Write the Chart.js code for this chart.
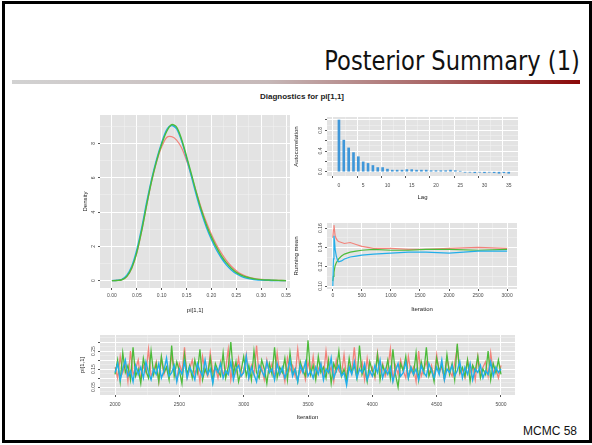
<!DOCTYPE html>
<html>
<head>
<meta charset="utf-8">
<script src="https://cdn.jsdelivr.net/npm/chart.js@4"></script>
<style>
  html, body { margin: 0; padding: 0; background: #fff; }
  body { width: 592px; height: 445px; position: relative; overflow: hidden; }
  #frame { position: absolute; left: 2px; top: 1px; width: 590px; height: 442px; box-sizing: border-box; border: 3px solid #000; }
  #title { position: absolute; right: 12px; top: 46px; font: 26px "DejaVu Sans", sans-serif; line-height: 30px; color: #111;
           transform: scaleX(0.87); transform-origin: right center; white-space: nowrap; }
  #rule { position: absolute; left: 12px; top: 80px; width: 568px; height: 4px;
          background: linear-gradient(to right, #d2d2d2 0%, #c6b8b8 45%, #a86262 75%, #8a0808 100%); }
  #diag { position: absolute; left: 202px; top: 92px; width: 200px; text-align: center;
          font: bold 8px "Liberation Sans", Arial, sans-serif; line-height: 10px; color: #222; }
  #foot { position: absolute; right: 15px; top: 424px; font: 12px "Liberation Sans", Arial, sans-serif; line-height: 14px; color: #111; }
  canvas { position: absolute; }
</style>
</head>
<body>
<div id="frame"></div>
<div id="title">Posterior Summary (1)</div>
<div id="rule"></div>
<div id="diag">Diagnostics for pi[1,1]</div>
<canvas id="cDens"></canvas>
<canvas id="cAcf"></canvas>
<canvas id="cRun"></canvas>
<canvas id="cTrace"></canvas>
<div id="foot">MCMC 58</div>
<script>
// ---- data ----
const CHAINS = ['1', '2', '3'];

// density of pi[1,1] per chain
const densX = [0.00,0.01,0.02,0.03,0.04,0.05,0.06,0.07,0.08,0.09,0.10,0.11,0.12,0.13,0.14,0.15,0.16,0.17,
               0.18,0.19,0.20,0.21,0.22,0.23,0.24,0.25,0.26,0.27,0.28,0.29,0.30,0.31,0.32,0.33,0.34,0.35];
const densGreen = [0.00,0.01,0.05,0.25,0.75,1.65,2.95,4.45,5.85,7.00,7.95,8.70,9.10,8.95,8.25,7.25,6.20,5.10,
                   4.10,3.25,2.55,1.95,1.45,1.05,0.72,0.48,0.32,0.21,0.14,0.09,0.06,0.04,0.03,0.02,0.01,0.00];
const densBlue  = [0.00,0.02,0.08,0.32,0.85,1.80,3.10,4.60,5.95,7.10,8.05,8.80,9.05,8.85,8.15,7.15,6.05,4.95,
                   3.95,3.10,2.40,1.80,1.32,0.92,0.62,0.40,0.25,0.15,0.09,0.05,0.03,0.02,0.01,0.00,0.00,0.00];
const densPink  = [0.00,0.01,0.05,0.24,0.72,1.60,2.90,4.40,5.80,6.95,7.80,8.35,8.40,8.20,7.75,7.00,6.10,5.15,
                   4.20,3.40,2.70,2.10,1.60,1.18,0.84,0.58,0.38,0.25,0.16,0.10,0.07,0.05,0.03,0.02,0.01,0.00];

// autocorrelation by lag
const acfLags = [0,1,2,3,4,5,6,7,8,9,10,11,12,13,14,15,16,17,18,19,20,21,22,23,24,25,26,27,28,29,30,31,32,33,34,35];
const acfVals = [1.00,0.61,0.46,0.37,0.29,0.19,0.16,0.12,0.08,0.08,0.05,0.03,0.03,0.03,0.04,0.04,0.03,0.03,
                 0.03,0.02,0.02,0.02,0.02,0.03,0.02,0.01,-0.01,-0.01,-0.02,-0.01,-0.02,-0.01,-0.02,-0.03,-0.02,-0.03];

// running mean per chain
const runIter  = [0,10,20,30,40,60,80,100,150,200,300,400,500,700,1000,1300,1600,2000,2500,3000];
const runPink  = [0.150,0.158,0.163,0.157,0.152,0.149,0.147,0.146,0.145,0.144,0.145,0.143,0.141,0.139,0.139,0.138,0.138,0.139,0.140,0.139];
const runBlue  = [0.100,0.128,0.152,0.146,0.138,0.131,0.127,0.125,0.126,0.128,0.130,0.131,0.132,0.133,0.134,0.135,0.135,0.134,0.136,0.136];
const runGreen = [0.105,0.110,0.114,0.118,0.121,0.124,0.126,0.128,0.131,0.133,0.135,0.136,0.137,0.138,0.137,0.137,0.138,0.138,0.137,0.138];

// trace per chain
const traceIter = [
  2000,2020,2040,2060,2080,2100,2120,2140,2160,2180, 2200,2220,2240,2260,2280,2300,2320,2340,2360,2380,
  2400,2420,2440,2460,2480,2500,2520,2540,2560,2580, 2600,2620,2640,2660,2680,2700,2720,2740,2760,2780,
  2800,2820,2840,2860,2880,2900,2920,2940,2960,2980, 3000,3020,3040,3060,3080,3100,3120,3140,3160,3180,
  3200,3220,3240,3260,3280,3300,3320,3340,3360,3380, 3400,3420,3440,3460,3480,3500,3520,3540,3560,3580,
  3600,3620,3640,3660,3680,3700,3720,3740,3760,3780, 3800,3820,3840,3860,3880,3900,3920,3940,3960,3980,
  4000,4020,4040,4060,4080,4100,4120,4140,4160,4180, 4200,4220,4240,4260,4280,4300,4320,4340,4360,4380,
  4400,4420,4440,4460,4480,4500,4520,4540,4560,4580, 4600,4620,4640,4660,4680,4700,4720,4740,4760,4780,
  4800,4820,4840,4860,4880,4900,4920,4940,4960,4980, 5000];
const traceBlue = [
  0.13,0.18,0.09,0.15,0.20,0.11,0.14,0.08,0.17,0.12, 0.16,0.10,0.19,0.13,0.09,0.15,0.12,0.18,0.10,0.14,
  0.21,0.11,0.13,0.17,0.08,0.15,0.12,0.19,0.10,0.16, 0.13,0.09,0.18,0.14,0.11,0.20,0.12,0.15,0.07,0.16,
  0.13,0.18,0.10,0.14,0.12,0.19,0.09,0.15,0.17,0.11, 0.13,0.22,0.10,0.16,0.12,0.08,0.17,0.14,0.11,0.19,
  0.13,0.15,0.09,0.18,0.12,0.16,0.10,0.14,0.20,0.11, 0.15,0.08,0.17,0.13,0.19,0.11,0.14,0.10,0.16,0.12,
  0.18,0.09,0.15,0.13,0.21,0.10,0.14,0.17,0.11,0.13, 0.06,0.16,0.12,0.19,0.10,0.15,0.13,0.18,0.09,0.14,
  0.11,0.17,0.13,0.20,0.10,0.15,0.12,0.16,0.08,0.14, 0.18,0.11,0.13,0.19,0.10,0.16,0.12,0.15,0.09,0.17,
  0.13,0.11,0.18,0.14,0.10,0.16,0.12,0.20,0.09,0.15, 0.13,0.17,0.11,0.14,0.19,0.10,0.16,0.12,0.18,0.09,
  0.15,0.13,0.17,0.10,0.14,0.12,0.19,0.11,0.16,0.13, 0.15];
const traceGreen = [
  0.12,0.20,0.08,0.24,0.13,0.17,0.09,0.27,0.11,0.15, 0.07,0.21,0.14,0.10,0.25,0.12,0.18,0.08,0.22,0.13,
  0.16,0.09,0.28,0.11,0.19,0.14,0.07,0.23,0.12,0.17, 0.10,0.20,0.13,0.26,0.09,0.15,0.12,0.21,0.08,0.18,
  0.14,0.11,0.24,0.10,0.16,0.30,0.12,0.19,0.08,0.14, 0.22,0.11,0.17,0.09,0.25,0.13,0.10,0.20,0.15,0.07,
  0.18,0.12,0.27,0.10,0.16,0.13,0.21,0.09,0.24,0.12, 0.15,0.08,0.19,0.14,0.11,0.31,0.12,0.17,0.09,0.22,
  0.13,0.16,0.10,0.20,0.07,0.18,0.14,0.25,0.11,0.15, 0.09,0.21,0.13,0.17,0.10,0.28,0.12,0.16,0.08,0.19,
  0.14,0.11,0.23,0.09,0.17,0.13,0.20,0.10,0.26,0.12, 0.05,0.18,0.14,0.22,0.10,0.16,0.12,0.24,0.09,0.19,
  0.13,0.27,0.11,0.15,0.08,0.21,0.14,0.17,0.10,0.23, 0.12,0.18,0.09,0.29,0.13,0.16,0.11,0.20,0.08,0.17,
  0.14,0.22,0.10,0.15,0.12,0.25,0.09,0.18,0.13,0.20, 0.12];
const tracePink = [
  0.16,0.10,0.22,0.13,0.18,0.08,0.25,0.12,0.15,0.20, 0.09,0.17,0.13,0.26,0.11,0.14,0.19,0.08,0.21,0.12,
  0.16,0.11,0.23,0.14,0.09,0.18,0.13,0.27,0.10,0.15, 0.20,0.12,0.17,0.08,0.22,0.14,0.11,0.24,0.13,0.16,
  0.10,0.19,0.12,0.15,0.26,0.09,0.18,0.13,0.21,0.11, 0.14,0.23,0.10,0.17,0.12,0.28,0.11,0.16,0.09,0.20,
  0.13,0.18,0.10,0.24,0.12,0.15,0.08,0.21,0.14,0.17, 0.11,0.26,0.13,0.16,0.09,0.19,0.12,0.22,0.10,0.15,
  0.18,0.11,0.25,0.13,0.16,0.08,0.20,0.14,0.12,0.23, 0.10,0.17,0.13,0.27,0.11,0.15,0.19,0.09,0.21,0.12,
  0.16,0.10,0.24,0.13,0.18,0.11,0.15,0.26,0.09,0.17, 0.12,0.20,0.14,0.10,0.22,0.13,0.16,0.08,0.25,0.11,
  0.15,0.19,0.12,0.17,0.10,0.23,0.13,0.16,0.09,0.21, 0.14,0.11,0.18,0.27,0.12,0.15,0.10,0.20,0.13,0.17,
  0.09,0.22,0.12,0.16,0.19,0.11,0.24,0.13,0.15,0.10, 0.17];

// tick labels
const densXLabels = [0.00,0.05,0.10,0.15,0.20,0.25,0.30,0.35];
const densYLabels = [0,2,4,6,8];
const acfXLabels = [0,5,10,15,20,25,30,35];
const acfYLabels = [0.0,0.4,0.8];
const runXLabels = [0,500,1000,1500,2000,2500,3000];
const runYLabels = [0.10,0.12,0.14,0.16];
const traceXLabels = [2000,2500,3000,3500,4000,4500,5000];
const traceYLabels = [0.05,0.15,0.25];

// ---- look ----
const FONT = '"Liberation Sans", Arial, sans-serif';
const PINK = '#f2837b', GREEN = '#4cbb3a', BLUE = '#21aeea';
const PANEL_BG = '#e3e3e3';
const PAD_T = 3, PAD_R = 6;

const near = (a, b) => Math.abs(a - b) < 1e-7 * Math.max(1, Math.abs(a));
const onStep = (v, step) => near(v / step, Math.round(v / step));

function axis(o) {
  return {
    type: 'linear', min: o.min, max: o.max,
    // grid positions every minor step, labels only where the picture has them
    afterBuildTicks: s => {
      const out = [];
      for (let k = Math.ceil(o.min / o.minor - 1e-9); k * o.minor <= o.max + 1e-9; k++) {
        out.push({ value: +(k * o.minor).toFixed(6) });
      }
      s.ticks = out;
    },
    afterFit: s => {
      if (s.isHorizontal()) s.height = o.size; else s.width = o.size;
      s.paddingLeft = s.paddingRight = s.paddingTop = s.paddingBottom = 0;
    },
    border: { display: false },
    grid: {
      drawTicks: true, tickLength: 2,
      color: c => !c.tick ? 'rgba(0,0,0,0)' : onStep(c.tick.value, o.major) ? '#ffffff' : '#f2f2f2',
      lineWidth: c => c.tick && onStep(c.tick.value, o.major) ? 1 : 0.5,
      tickColor: c => c.tick && onStep(c.tick.value, o.major) ? '#555' : 'rgba(0,0,0,0)',
    },
    ticks: {
      autoSkip: false, minRotation: 0, maxRotation: 0,
      padding: o.pad || 3,
      font: { family: FONT, size: 5 },
      color: o.rotate ? 'rgba(0,0,0,0)' : '#4d4d4d',
      callback: v => o.labels.some(l => near(l, v)) ? Number(v).toFixed(o.dec) : '',
    },
    title: { display: true, text: o.title, color: '#222', font: { family: FONT, size: 6 }, padding: 0 },
  };
}

// ggplot-ish: grey panel and rotated y tick labels
const panelBg = {
  id: 'panelBg',
  beforeDraw(chart) {
    const a = chart.chartArea, ctx = chart.ctx;
    ctx.save();
    ctx.fillStyle = PANEL_BG;
    ctx.fillRect(a.left, a.top, a.right - a.left, a.bottom - a.top);
    ctx.restore();
  },
  afterDraw(chart) {
    const s = chart.scales.y, ctx = chart.ctx;
    ctx.save();
    ctx.fillStyle = '#4d4d4d';
    ctx.font = '5px ' + FONT;
    ctx.textAlign = 'center';
    ctx.textBaseline = 'bottom';
    s.ticks.forEach(t => {
      if (!t.label) return;
      ctx.save();
      ctx.translate(s.right - 4, s.getPixelForValue(t.value));
      ctx.rotate(-Math.PI / 2);
      ctx.fillText(t.label, 0, 0);
      ctx.restore();
    });
    ctx.restore();
  }
};

function place(id, p) {
  const c = document.getElementById(id);
  c.width = p.w + p.yW + PAD_R;
  c.height = p.h + PAD_T + p.xH;
  c.style.left = (p.x - p.yW) + 'px';
  c.style.top = (p.y - PAD_T) + 'px';
  return c;
}

function baseOptions(xAxis, yAxis) {
  return {
    responsive: false, animation: false,
    layout: { padding: { top: PAD_T, right: PAD_R, left: 0, bottom: 0 } },
    plugins: { legend: { display: false }, tooltip: { enabled: false } },
    scales: { x: xAxis, y: yAxis },
  };
}

const pts = (xs, ys) => xs.map((x, i) => ({ x, y: ys[i] }));
const line = (label, data, color, width, tension) => ({
  label, data, borderColor: color, backgroundColor: color, borderWidth: width,
  pointRadius: 0, tension: tension || 0, fill: false,
});

// density
const pDens = { x: 100, y: 115, w: 190, h: 173, yW: 18, xH: 26 };
new Chart(place('cDens', pDens), {
  type: 'line',
  data: { datasets: [
    line(CHAINS[1], pts(densX, densGreen), GREEN, 1.4, 0.3),
    line(CHAINS[2], pts(densX, densBlue), BLUE, 1.4, 0.3),
    line(CHAINS[0], pts(densX, densPink), PINK, 1.2, 0.3),
  ] },
  options: baseOptions(
    axis({ min: -0.024, max: 0.358, major: 0.05, minor: 0.025, labels: densXLabels, dec: 2, title: 'pi[1,1]', size: pDens.xH, pad: 3 }),
    axis({ min: -0.43, max: 9.66, major: 2, minor: 1, labels: densYLabels, dec: 0, title: 'Density', size: pDens.yW, rotate: true })
  ),
  plugins: [panelBg],
});

// autocorrelation
const pAcf = { x: 327, y: 117, w: 191, h: 59, yW: 34, xH: 25 };
new Chart(place('cAcf', pAcf), {
  type: 'bar',
  data: { datasets: [{
    label: 'acf', data: pts(acfLags, acfVals), backgroundColor: '#3f97d9', borderWidth: 0, barThickness: 2,
  }] },
  options: baseOptions(
    axis({ min: -1.15, max: 35.6, major: 5, minor: 2.5, labels: acfXLabels, dec: 0, title: 'Lag', size: pAcf.xH, pad: 5 }),
    axis({ min: -0.083, max: 1.058, major: 0.2, minor: 0.1, labels: acfYLabels, dec: 1, title: 'Autocorrelation', size: pAcf.yW, rotate: true })
  ),
  plugins: [panelBg],
});

// running mean
const pRun = { x: 327, y: 223, w: 190, h: 66, yW: 34, xH: 24 };
new Chart(place('cRun', pRun), {
  type: 'line',
  data: { datasets: [
    line(CHAINS[2], pts(runIter, runBlue), BLUE, 1.2),
    line(CHAINS[1], pts(runIter, runGreen), GREEN, 1.2),
    line(CHAINS[0], pts(runIter, runPink), PINK, 1.2),
  ] },
  options: baseOptions(
    axis({ min: -100, max: 3170, major: 500, minor: 250, labels: runXLabels, dec: 0, title: 'Iteration', size: pRun.xH, pad: 2 }),
    axis({ min: 0.0969, max: 0.1652, major: 0.02, minor: 0.01, labels: runYLabels, dec: 2, title: 'Running mean', size: pRun.yW, rotate: true })
  ),
  plugins: [panelBg],
});

// trace
const pTrace = { x: 100, y: 335, w: 415, h: 60, yW: 21, xH: 26 };
new Chart(place('cTrace', pTrace), {
  type: 'line',
  data: { datasets: [
    line(CHAINS[2], pts(traceIter, traceBlue), BLUE, 1.4),
    line(CHAINS[1], pts(traceIter, traceGreen), GREEN, 1.3),
    line(CHAINS[0], pts(traceIter, tracePink), PINK, 1.3),
  ] },
  options: baseOptions(
    axis({ min: 1883, max: 5109, major: 500, minor: 250, labels: traceXLabels, dec: 0, title: 'Iteration', size: pTrace.xH, pad: 5 }),
    axis({ min: 0.0056, max: 0.339, major: 0.05, minor: 0.025, labels: traceYLabels, dec: 2, title: 'pi[1,1]', size: pTrace.yW, rotate: true })
  ),
  plugins: [panelBg],
});
</script>
</body>
</html>
